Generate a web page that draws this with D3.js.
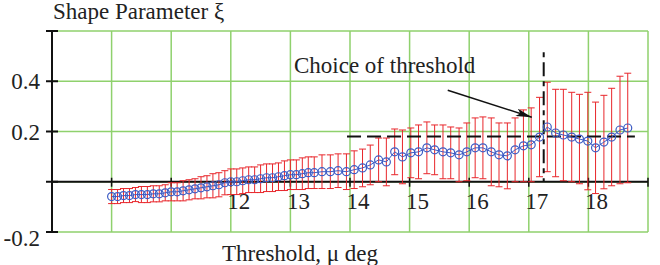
<!DOCTYPE html>
<html>
<head>
<meta charset="utf-8">
<script src="https://cdn.jsdelivr.net/npm/d3@7"></script>
<style>
  body { margin: 0; background: #fff; }
  text { font-family: "Liberation Serif", "DejaVu Serif", serif; font-size: 23px; fill: #222; }
</style>
</head>
<body>
<svg id="chart" width="660" height="265"></svg>
<script>
// Threshold values (deg) of each estimate
var thresholds = [
  10.0, 10.1, 10.2, 10.3, 10.4, 10.5, 10.6, 10.7, 10.8, 10.9,
  11.0, 11.1, 11.2, 11.3, 11.4, 11.5, 11.6, 11.7, 11.8, 11.9,
  12.0, 12.1, 12.2, 12.3, 12.4, 12.5, 12.6, 12.7, 12.8, 12.9,
  13.0, 13.1, 13.2, 13.3,
  13.40, 13.53, 13.67, 13.80, 13.94, 14.07, 14.21, 14.34, 14.48, 14.61,
  14.75, 14.88, 15.02, 15.15, 15.29, 15.42, 15.56, 15.69, 15.83, 15.96,
  16.10, 16.23, 16.37, 16.50, 16.64, 16.77, 16.91, 17.04, 17.18, 17.31,
  17.45, 17.58, 17.72, 17.85, 17.99, 18.12, 18.26, 18.39, 18.53, 18.66
];
// Estimated shape parameter xi
var xiValues = [
  -0.059, -0.059, -0.055, -0.055, -0.051, -0.051, -0.051, -0.048, -0.048, -0.044,
  -0.040, -0.040, -0.036, -0.032, -0.028, -0.024, -0.020, -0.016, -0.012, -0.004,
  0.000, 0.000, 0.004, 0.008, 0.008, 0.012, 0.016, 0.016, 0.020, 0.024,
  0.028, 0.028, 0.032, 0.036,
  0.036, 0.040, 0.040, 0.044, 0.040, 0.048, 0.055, 0.067, 0.087, 0.079,
  0.119, 0.099, 0.115, 0.119, 0.135, 0.127, 0.119, 0.115, 0.107, 0.119,
  0.135, 0.135, 0.119, 0.107, 0.103, 0.127, 0.143, 0.147, 0.178, 0.218,
  0.194, 0.186, 0.178, 0.170, 0.162, 0.135, 0.158, 0.178, 0.206, 0.214
];
// Half width of the confidence interval
var halfWidths = [
  0.028, 0.028, 0.028, 0.028, 0.028, 0.032, 0.032, 0.032, 0.032, 0.032,
  0.036, 0.036, 0.040, 0.040, 0.040, 0.044, 0.044, 0.048, 0.048, 0.048,
  0.051, 0.051, 0.051, 0.051, 0.051, 0.055, 0.055, 0.055, 0.055, 0.059,
  0.059, 0.059, 0.063, 0.063,
  0.063, 0.067, 0.067, 0.067, 0.071, 0.075, 0.075, 0.079, 0.087, 0.095,
  0.091, 0.107, 0.099, 0.107, 0.103, 0.099, 0.107, 0.103, 0.107, 0.115,
  0.119, 0.123, 0.135, 0.127, 0.131, 0.127, 0.143, 0.147, 0.158, 0.178,
  0.174, 0.182, 0.178, 0.178, 0.194, 0.182, 0.186, 0.194, 0.214, 0.218
];
var xGrid = [9, 10, 11, 12, 13, 14, 15, 16, 17, 18, 19];
var xTickLabels = [12, 13, 14, 15, 16, 17, 18];
var yGrid = [-0.2, 0, 0.2, 0.4, 0.6];
var yTickLabels = [-0.2, 0.2, 0.4];
var chosenThreshold = 17.25;
var chosenXi = 0.18;

var data = thresholds.map(function (t, i) {
  return { t: t, xi: xiValues[i], h: halfWidths[i] };
});

var svg = d3.select("#chart");
var x = d3.scaleLinear().domain([9, 19]).range([52, 648]);
var y = d3.scaleLinear().domain([-0.2, 0.6]).range([232, 31]);

var green = "#8fd16d";

// Grid
svg.selectAll(".vgrid").data(xGrid).enter().append("line")
  .attr("x1", function (d) { return x(d); }).attr("x2", function (d) { return x(d); })
  .attr("y1", y(0.6)).attr("y2", y(-0.2))
  .style("stroke", green).style("stroke-width", 1.5);
svg.selectAll(".hgrid").data(yGrid).enter().append("line")
  .attr("x1", x(9)).attr("x2", x(19))
  .attr("y1", function (d) { return y(d); }).attr("y2", function (d) { return y(d); })
  .style("stroke", green).style("stroke-width", 1.5);

// Axes
svg.append("line")
  .attr("x1", x(9)).attr("x2", x(9)).attr("y1", y(0.6)).attr("y2", y(-0.2))
  .style("stroke", "#111").style("stroke-width", 2);
svg.selectAll(".ytick").data(yGrid).enter().append("line")
  .attr("x1", x(9) - 6).attr("x2", x(9) + 6)
  .attr("y1", function (d) { return y(d); }).attr("y2", function (d) { return y(d); })
  .style("stroke", "#111").style("stroke-width", 2);
svg.append("line")
  .attr("x1", x(9)).attr("x2", x(19)).attr("y1", y(0)).attr("y2", y(0))
  .style("stroke", "#111").style("stroke-width", 2);
svg.selectAll(".xtick").data(xGrid.slice(1)).enter().append("line")
  .attr("x1", function (d) { return x(d); }).attr("x2", function (d) { return x(d); })
  .attr("y1", y(0) - 4).attr("y2", y(0) + 5)
  .style("stroke", "#111").style("stroke-width", 1.5);

svg.selectAll(".ylab").data(yTickLabels).enter().append("text")
  .attr("x", 40)
  .attr("y", function (d) { return y(d) + (d < 0 ? 6 : 0); })
  .attr("dy", "0.35em")
  .attr("text-anchor", "end")
  .text(function (d) { return d.toFixed(1); }); // plain hyphen minus like the original
svg.selectAll(".xlab").data(xTickLabels).enter().append("text")
  .attr("x", function (d) { return x(d) + 8; })
  .attr("y", y(0) + 27)
  .attr("text-anchor", "middle")
  .text(function (d) { return d; });

svg.append("text").attr("x", 53).attr("y", 19).text("Shape Parameter ξ");
svg.append("text").attr("x", 222).attr("y", 261).text("Threshold, μ deg");

// Error bars
var red = "#e8262b";
var bars = svg.append("g").style("stroke", red).style("stroke-width", 1);
bars.selectAll(".ebar").data(data).enter().append("line")
  .attr("x1", function (d) { return x(d.t); }).attr("x2", function (d) { return x(d.t); })
  .attr("y1", function (d) { return y(d.xi + d.h); }).attr("y2", function (d) { return y(d.xi - d.h); });
bars.selectAll(".ctop").data(data).enter().append("line")
  .attr("x1", function (d) { return x(d.t) - 3.5; }).attr("x2", function (d) { return x(d.t) + 3.5; })
  .attr("y1", function (d) { return y(d.xi + d.h); }).attr("y2", function (d) { return y(d.xi + d.h); });
bars.selectAll(".cbot").data(data).enter().append("line")
  .attr("x1", function (d) { return x(d.t) - 3.5; }).attr("x2", function (d) { return x(d.t) + 3.5; })
  .attr("y1", function (d) { return y(d.xi - d.h); }).attr("y2", function (d) { return y(d.xi - d.h); });

// Chosen threshold markers
svg.append("line")
  .attr("x1", x(13.95)).attr("x2", x(18.78))
  .attr("y1", y(chosenXi)).attr("y2", y(chosenXi))
  .style("stroke", "#111").style("stroke-width", 2)
  .style("stroke-dasharray", "14,6");
svg.append("line")
  .attr("x1", x(chosenThreshold)).attr("x2", x(chosenThreshold))
  .attr("y1", y(0.515)).attr("y2", y(0))
  .style("stroke", "#111").style("stroke-width", 2)
  .style("stroke-dasharray", "5,5,14,5");

// Estimates
var blue = "#3d5cc4";
svg.append("path").datum(data)
  .attr("d", d3.line().x(function (d) { return x(d.t); }).y(function (d) { return y(d.xi); }))
  .style("fill", "none").style("stroke", blue).style("stroke-width", 1);
svg.selectAll(".pt").data(data).enter().append("circle")
  .attr("cx", function (d) { return x(d.t); })
  .attr("cy", function (d) { return y(d.xi); })
  .attr("r", 4)
  .style("fill", "none").style("stroke", blue).style("stroke-width", 1.2);

// Annotation
svg.append("defs").append("marker")
  .attr("id", "head").attr("viewBox", "0 0 16 8")
  .attr("refX", 16).attr("refY", 4)
  .attr("markerWidth", 16).attr("markerHeight", 8)
  .attr("markerUnits", "userSpaceOnUse").attr("orient", "auto")
  .append("path").attr("d", "M0,0 L16,4 L0,8 L4,4 Z").style("fill", "#111");
svg.append("line")
  .attr("x1", x(15.64)).attr("y1", y(0.364))
  .attr("x2", x(17.05)).attr("y2", y(0.257))
  .style("stroke", "#111").style("stroke-width", 1.5)
  .attr("marker-end", "url(#head)");
svg.append("text").attr("x", x(13.06)).attr("y", y(0.432)).text("Choice of threshold");
</script>
</body>
</html>
